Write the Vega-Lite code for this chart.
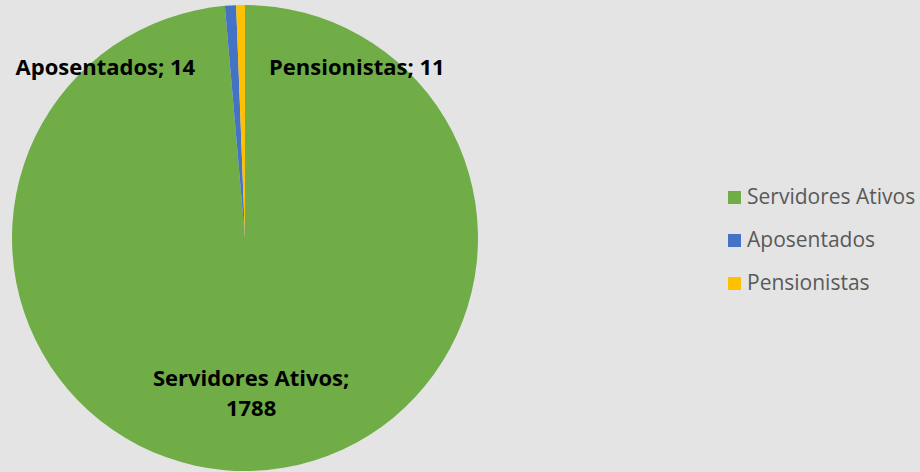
{
  "$schema": "https://vega.github.io/schema/vega-lite/v6.json",
  "width": 490,
  "height": 470,
  "padding": {"left": 0, "top": 3, "right": 7, "bottom": 0},
  "background": "#e4e4e4",
  "config": {"view": {"stroke": null}},
  "data": {
    "values": [
      {"categoria": "Servidores Ativos", "valor": 1788, "ordem": 1},
      {"categoria": "Aposentados", "valor": 14, "ordem": 2},
      {"categoria": "Pensionistas", "valor": 11, "ordem": 3}
    ]
  },
  "encoding": {
    "theta": {"field": "valor", "type": "quantitative", "stack": true},
    "order": {"field": "ordem", "type": "quantitative", "sort": "ascending"}
  },
  "layer": [
    {
      "mark": {"type": "arc", "outerRadius": 233},
      "encoding": {
        "color": {
          "field": "categoria",
          "type": "nominal",
          "scale": {
            "domain": ["Servidores Ativos", "Aposentados", "Pensionistas"],
            "range": ["#70AD47", "#4472C4", "#FFC000"]
          },
          "legend": {
            "title": null,
            "orient": "none",
            "legendX": 724,
            "legendY": 184,
            "symbolType": "square",
            "symbolSize": 169,
            "symbolStrokeWidth": 0,
            "labelFont": "Open Sans",
            "labelFontSize": 21,
            "labelColor": "#595959",
            "labelOffset": 2,
            "labelLimit": 300,
            "rowPadding": 21,
            "padding": 0
          }
        }
      }
    },
    {
      "transform": [
        {"calculate": "datum.categoria === 'Servidores Ativos' ? datum.categoria + ';\\n' + datum.valor : ''", "as": "lbl"}
      ],
      "mark": {"type": "text", "radius": 141, "font": "Open Sans", "fontSize": 22, "fontWeight": "bold", "color": "#000000", "lineBreak": "\n", "lineHeight": 30, "align": "center", "baseline": "middle"},
      "encoding": {"text": {"field": "lbl", "type": "nominal"}}
    },
    {
      "transform": [
        {"calculate": "datum.categoria === 'Aposentados' ? datum.categoria + '; ' + datum.valor : ''", "as": "lbl"}
      ],
      "mark": {"type": "text", "radius": 170, "dx": -129, "font": "Open Sans", "fontSize": 22, "fontWeight": "bold", "color": "#000000", "align": "center", "baseline": "middle"},
      "encoding": {"text": {"field": "lbl", "type": "nominal"}}
    },
    {
      "transform": [
        {"calculate": "datum.categoria === 'Pensionistas' ? datum.categoria + '; ' + datum.valor : ''", "as": "lbl"}
      ],
      "mark": {"type": "text", "radius": 170, "dx": 115, "font": "Open Sans", "fontSize": 22, "fontWeight": "bold", "color": "#000000", "align": "center", "baseline": "middle"},
      "encoding": {"text": {"field": "lbl", "type": "nominal"}}
    }
  ]
}
